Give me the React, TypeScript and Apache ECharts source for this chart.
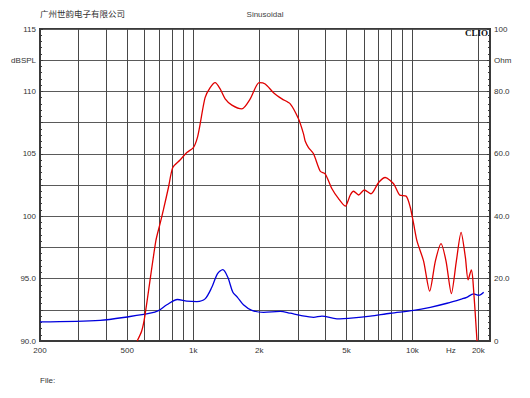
import React, { useEffect, useRef } from "react";
import * as echarts from "echarts";

// SPL response (red), frequency in Hz and level in dB SPL
const splFreq = [555, 582, 603, 675, 706, 731, 771, 807, 871, 935, 1002, 1045, 1076, 1133, 1195, 1259, 1327, 1399, 1501, 1667, 1820, 2000, 2130, 2325, 2540, 2771, 3022, 3186, 3245, 3358, 3540, 3799, 4000, 4296, 4604, 4941, 5207, 5393, 5682, 6034, 6473, 7010, 7520, 8207, 8742, 9381, 9785, 10130, 10500, 11250, 11990, 12730, 13510, 14240, 15060, 15870, 16680, 17450, 17950, 18580, 18900, 19720];
const splDb = [90.0, 90.8, 92.1, 98.0, 99.4, 100.5, 102.3, 103.9, 104.5, 105.1, 105.5, 106.3, 107.4, 109.5, 110.3, 110.7, 110.2, 109.4, 108.9, 108.6, 109.4, 110.7, 110.6, 109.9, 109.4, 109.0, 107.8, 106.6, 106.0, 105.5, 105.0, 103.6, 103.4, 102.2, 101.4, 100.8, 101.7, 102.0, 101.7, 102.1, 101.8, 102.7, 103.1, 102.6, 101.7, 101.6, 100.7, 99.4, 98.0, 96.4, 94.0, 96.4, 97.8, 96.4, 93.8, 96.4, 98.7, 96.7, 94.9, 95.7, 94.8, 90.0];

// Impedance (blue), frequency in Hz and Ohm
const impFreq = [200, 376, 515, 636, 694, 758, 847, 935, 1039, 1133, 1216, 1290, 1365, 1439, 1517, 1592, 1695, 1852, 2092, 2494, 2771, 3079, 3540, 3866, 4527, 5393, 6428, 7929, 10130, 12070, 14390, 16850, 17700, 19030, 20070, 21150];
const impOhm = [6.1, 6.6, 7.85, 8.9, 9.75, 11.6, 13.3, 12.8, 12.65, 13.5, 17.2, 21.5, 22.9, 20.4, 15.6, 14.0, 11.6, 9.8, 9.2, 9.5, 8.9, 8.2, 7.6, 7.97, 7.1, 7.4, 7.97, 8.9, 9.8, 10.8, 12.1, 13.5, 14.0, 15.1, 14.6, 15.6];

// Axis definitions
const xMinHz = 200;
const xMaxHz = 22600;
const gridFreqs = [200, 300, 400, 500, 600, 700, 800, 900, 1000, 2000, 3000, 4000, 5000, 6000, 7000, 8000, 9000, 10000, 20000];
const xLabelFreqs = [200, 500, 1000, 2000, 5000, 10000, 15000, 20000];
const xLabelTexts = ["200", "500", "1k", "2k", "5k", "10k", "Hz", "20k"];
const leftTickValues = [90, 92.5, 95, 97.5, 100, 102.5, 105, 107.5, 110, 112.5, 115];
const leftTickTexts = ["90.0", "", "95.0", "", "100", "", "105", "", "110", "dBSPL", "115"];
const rightTickValues = [0, 10, 20, 30, 40, 50, 60, 70, 80, 90, 100];
const rightTickTexts = ["0", "", "20.0", "", "40.0", "", "60.0", "", "80.0", "Ohm", "100"];

const titleLeft = "广州世韵电子有限公司";
const titleCenter = "Sinusoidal";
const footer = "File:";
const brand = "CLIO";

const FONT = "'Liberation Sans', Arial, sans-serif";
const TXT = "#333";

const lg = (v: number) => Math.log10(v);

export default function App() {
  const ref = useRef<HTMLDivElement>(null);
  useEffect(() => {
    if (!ref.current) return;
    const chart = echarts.init(ref.current, undefined, { renderer: "svg" });
    const lookup = (vals: number[], texts: string[], v: number) => {
      const i = vals.findIndex((q) => Math.abs(q - v) < 1e-6);
      return i >= 0 ? texts[i] : "";
    };
    const option: any = {
      animation: false,
      backgroundColor: "#fff",
      textStyle: { fontFamily: FONT },
      grid: {
        left: 40,
        right: 40,
        top: 29,
        bottom: 57,
        show: true,
        borderColor: "#3a3a3a",
        borderWidth: 2,
        backgroundColor: "transparent",
      },
      xAxis: {
        type: "value",
        min: lg(xMinHz),
        max: lg(xMaxHz),
        axisLine: { show: true, onZero: false, lineStyle: { color: "#3a3a3a", width: 2 } },
        axisTick: { show: false, customValues: gridFreqs.map(lg) },
        splitLine: { show: true, lineStyle: { color: "#484848", width: 1 } },
        axisLabel: {
          customValues: xLabelFreqs.map(lg),
          margin: 5,
          fontSize: 8,
          color: TXT,
          fontFamily: FONT,
          formatter: (v: number) => {
            const f = Math.pow(10, v);
            const i = xLabelFreqs.findIndex((q) => Math.abs(q - f) < 1);
            return i >= 0 ? xLabelTexts[i] : "";
          },
        },
      },
      yAxis: [
        {
          type: "value",
          min: 90,
          max: 115,
          interval: 2.5,
          position: "left",
          axisLine: { show: true, lineStyle: { color: "#3a3a3a", width: 2 } },
          axisTick: { show: true, inside: true, length: 3, lineStyle: { color: "#3a3a3a" } },
          minorTick: { show: true, splitNumber: 5, length: 2, lineStyle: { color: "#3a3a3a" } },
          splitLine: { show: true, lineStyle: { color: "#5a5a5a", width: 1 } },
          axisLabel: {
            margin: 4,
            fontSize: 8,
            color: TXT,
            fontFamily: FONT,
            formatter: (v: number) => lookup(leftTickValues, leftTickTexts, v),
          },
        },
        {
          type: "value",
          min: 0,
          max: 100,
          interval: 10,
          position: "right",
          axisLine: { show: true, lineStyle: { color: "#3a3a3a", width: 2 } },
          axisTick: { show: true, inside: true, length: 3, lineStyle: { color: "#3a3a3a" } },
          minorTick: { show: true, splitNumber: 5, length: 2, lineStyle: { color: "#3a3a3a" } },
          splitLine: { show: false },
          axisLabel: {
            margin: 4,
            fontSize: 8,
            color: TXT,
            fontFamily: FONT,
            formatter: (v: number) => lookup(rightTickValues, rightTickTexts, v),
          },
        },
      ],
      series: [
        {
          type: "line",
          name: "Impedance",
          yAxisIndex: 1,
          data: impFreq.map((f, i) => [lg(f), impOhm[i]]),
          showSymbol: false,
          symbol: "none",
          smooth: 0.3,
          lineStyle: { color: "#0000dd", width: 1.3 },
          itemStyle: { color: "#0000dd" },
          z: 3,
        },
        {
          type: "line",
          name: "SPL",
          yAxisIndex: 0,
          data: splFreq.map((f, i) => [lg(f), splDb[i]]),
          showSymbol: false,
          symbol: "none",
          smooth: 0.25,
          lineStyle: { color: "#e00000", width: 1.3 },
          itemStyle: { color: "#e00000" },
          z: 4,
        },
      ],
      graphic: [
        {
          type: "text",
          left: 40,
          top: 9,
          style: { text: titleLeft, fontSize: 8.5, fill: TXT, fontFamily: "'Noto Sans CJK SC', sans-serif" },
        },
        {
          type: "text",
          x: 265,
          y: 14,
          style: { text: titleCenter, fontSize: 8, fill: "#444", fontFamily: FONT, align: "center", verticalAlign: "middle" },
        },
        {
          type: "text",
          x: 488,
          y: 33,
          z: 10,
          style: { text: brand, fontSize: 9, fontWeight: "bold", fill: "#111", fontFamily: "'Liberation Serif', serif", align: "right", verticalAlign: "middle" },
        },
        {
          type: "text",
          x: 40,
          y: 380,
          style: { text: footer, fontSize: 8, fill: TXT, fontFamily: FONT, align: "left", verticalAlign: "middle" },
        },
      ],
    };
    chart.setOption(option);
    return () => chart.dispose();
  }, []);
  return (
    <div
      ref={ref}
      style={{ position: "absolute", left: 0, top: 0, width: 530, height: 398, background: "#fff" }}
    />
  );
}
